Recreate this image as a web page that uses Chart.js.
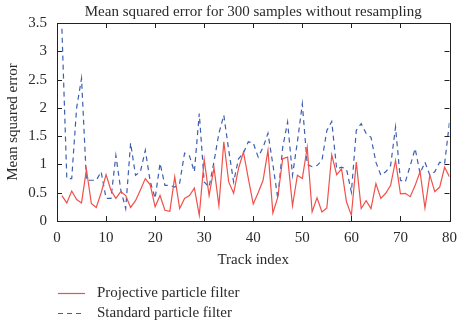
<!DOCTYPE html>
<html>
<head>
<meta charset="utf-8">
<title>Mean squared error</title>
<script src="https://cdn.jsdelivr.net/npm/chart.js@4"></script>
<style>
  html, body { margin: 0; padding: 0; background: #fff; }
  #wrap { width: 465px; height: 324px; position: relative; }
</style>
</head>
<body>
<div id="wrap"><canvas id="c" width="465" height="324"></canvas></div>
<script>
// track index 1..80
const trackIndex = [
  1, 2, 3, 4, 5, 6, 7, 8, 9, 10, 11, 12, 13, 14, 15, 16, 17, 18, 19, 20,
  21, 22, 23, 24, 25, 26, 27, 28, 29, 30, 31, 32, 33, 34, 35, 36, 37, 38, 39, 40,
  41, 42, 43, 44, 45, 46, 47, 48, 49, 50, 51, 52, 53, 54, 55, 56, 57, 58, 59, 60,
  61, 62, 63, 64, 65, 66, 67, 68, 69, 70, 71, 72, 73, 74, 75, 76, 77, 78, 79, 80
];
const projectiveMSE = [
  0.45, 0.32, 0.53, 0.38, 0.32, 0.91, 0.31, 0.24, 0.50, 0.82,
  0.54, 0.40, 0.52, 0.45, 0.24, 0.36, 0.55, 0.75, 0.64, 0.25,
  0.45, 0.19, 0.17, 0.78, 0.22, 0.40, 0.45, 0.58, 0.10, 1.09,
  0.45, 0.94, 0.27, 1.40, 0.69, 0.49, 0.93, 1.22, 0.75, 0.30,
  0.50, 0.72, 1.25, 0.14, 0.42, 1.10, 1.13, 0.27, 0.81, 0.75,
  1.30, 0.16, 0.41, 0.16, 0.23, 1.17, 0.82, 0.92, 0.34, 0.10,
  1.04, 0.22, 0.36, 0.22, 0.66, 0.40, 0.49, 0.63, 1.07, 0.48,
  0.49, 0.43, 0.63, 0.87, 0.23, 0.81, 0.52, 0.60, 0.95, 0.78
];
const standardMSE = [
  3.40, 0.75, 0.75, 2.00, 2.52, 0.72, 0.72, 0.72, 0.87, 0.40,
  0.40, 1.16, 0.55, 0.22, 1.38, 0.81, 0.87, 1.25, 0.70, 0.40,
  1.02, 0.63, 0.63, 0.60, 0.67, 1.20, 1.15, 0.87, 1.90, 0.69,
  0.60, 1.05, 1.55, 1.87, 1.25, 0.69, 1.10, 1.20, 1.40, 1.38,
  1.13, 1.30, 1.55, 1.00, 0.40, 1.30, 1.75, 0.81, 1.40, 2.07,
  1.00, 0.96, 0.98, 1.07, 1.60, 1.76, 0.92, 0.95, 0.92, 0.51,
  1.60, 1.72, 1.55, 1.48, 1.04, 0.81, 0.87, 0.98, 1.66, 0.72,
  0.69, 0.98, 1.28, 0.84, 1.04, 0.81, 0.87, 1.04, 1.01, 1.75
];
const seriesNames = ['Projective particle filter', 'Standard particle filter'];
const chartTitle = 'Mean squared error for 300 samples without resampling';
const xTicks = [0, 10, 20, 30, 40, 50, 60, 70, 80];
const yTicks = [0, 0.5, 1, 1.5, 2, 2.5, 3, 3.5];

const SERIF = "'Liberation Serif', 'DejaVu Serif', serif";
const FS = 15;
const TEXT = '#2b2b2b';
const RED = '#f0504a';
const BLUE = '#3d5fae';

// title over the plot, frame + inward ticks on all four sides, legend under the axis
const framePlugin = {
  id: 'frame',
  afterDraw(chart) {
    const { ctx, chartArea: a, scales } = chart;
    ctx.save();
    ctx.font = FS + 'px ' + SERIF;
    ctx.fillStyle = TEXT;
    ctx.textAlign = 'center';
    ctx.textBaseline = 'middle';
    ctx.fillText(chartTitle, (a.left + a.right) / 2, 12);

    ctx.strokeStyle = '#222';
    ctx.lineWidth = 1;
    ctx.strokeRect(Math.round(a.left) + 0.5, Math.round(a.top) + 0.5,
      Math.round(a.right - a.left), Math.round(a.bottom - a.top));
    ctx.beginPath();
    const L = 5;
    xTicks.forEach((v) => {
      const x = Math.round(scales.x.getPixelForValue(v)) + 0.5;
      ctx.moveTo(x, a.bottom); ctx.lineTo(x, a.bottom - L);
      ctx.moveTo(x, a.top); ctx.lineTo(x, a.top + L);
    });
    yTicks.forEach((v) => {
      const y = Math.round(scales.y.getPixelForValue(v)) + 0.5;
      ctx.moveTo(a.left, y); ctx.lineTo(a.left + L, y);
      ctx.moveTo(a.right, y); ctx.lineTo(a.right - L, y);
    });
    ctx.stroke();

    // legend
    ctx.textAlign = 'left';
    chart.data.datasets.forEach((ds, i) => {
      const y = 293 + i * 20 + 0.5;
      ctx.beginPath();
      ctx.strokeStyle = ds.borderColor;
      ctx.lineWidth = 1.2;
      ctx.setLineDash(ds.borderDash || []);
      ctx.moveTo(58, y); ctx.lineTo(85, y);
      ctx.stroke();
      ctx.setLineDash([]);
      ctx.fillText(ds.label, 97, y);
    });
    ctx.restore();
  }
};

new Chart(document.getElementById('c'), {
  type: 'line',
  data: {
    labels: trackIndex,
    datasets: [
      {
        label: seriesNames[0],
        data: trackIndex.map((x, i) => ({ x, y: projectiveMSE[i] })),
        borderColor: RED, borderWidth: 1.2, pointRadius: 0, tension: 0
      },
      {
        label: seriesNames[1],
        data: trackIndex.map((x, i) => ({ x, y: standardMSE[i] })),
        borderColor: BLUE, borderWidth: 1.2, borderDash: [5, 4], pointRadius: 0, tension: 0
      }
    ]
  },
  options: {
    responsive: false,
    animation: false,
    layout: { padding: { left: 0, right: 12, top: 23, bottom: 51 } },
    plugins: {
      legend: { display: false },
      tooltip: { enabled: false },
      title: { display: false }
    },
    scales: {
      x: {
        type: 'linear', min: 0, max: 80,
        grid: { display: false, drawTicks: false },
        border: { display: false },
        afterBuildTicks: (s) => { s.ticks = xTicks.map((v) => ({ value: v })); },
        afterFit: (s) => { s.height = 52; },
        ticks: { color: TEXT, font: { family: SERIF, size: FS }, padding: 8, maxRotation: 0 },
        title: { display: true, text: 'Track index', color: TEXT,
          font: { family: SERIF, size: FS }, padding: { top: 8 } }
      },
      y: {
        min: 0, max: 3.5,
        grid: { display: false, drawTicks: false },
        border: { display: false },
        afterBuildTicks: (s) => { s.ticks = yTicks.map((v) => ({ value: v })); },
        afterFit: (s) => { s.width = 57; },
        ticks: { color: TEXT, font: { family: SERIF, size: FS }, padding: 10,
          callback: (v) => String(v) },
        title: { display: true, text: 'Mean squared error', color: TEXT,
          font: { family: SERIF, size: FS }, padding: { bottom: 0 } }
      }
    }
  },
  plugins: [framePlugin]
});
</script>
</body>
</html>
